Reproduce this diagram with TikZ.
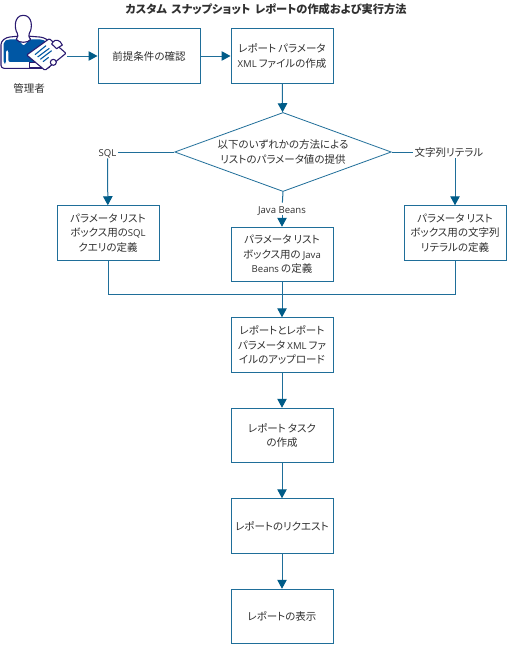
\documentclass[tikz,border=0pt]{standalone}
\usepackage{fontspec}
\setmainfont[RawFeature={+palt}]{Noto Sans CJK JP}
\newfontfamily\latf[Scale=0.91]{Open Sans}
\newcommand{\lt}[1]{{\latf #1}}
\newcommand{\gp}{\hspace{.2em}}
\newcommand{\tgp}{\hspace{.4em}}
\usetikzlibrary{arrows.meta,shapes.geometric}
\definecolor{flow}{HTML}{1F6E99}
\definecolor{head}{HTML}{005C88}
\definecolor{ink}{HTML}{303030}
\definecolor{iconline}{HTML}{2A1A70}
\definecolor{iconblue}{HTML}{0057A4}
\tikzset{
  every node/.style={text=ink,font=\fontsize{10.5}{14.6}\selectfont,inner sep=0pt},
  stepbox/.style={draw=flow,line width=1pt,fill=white,minimum width=102pt,minimum height=54.5pt,align=center,text width=100pt},
  choice/.style={draw=flow,line width=.8pt,fill=white,diamond,aspect=2.74,minimum width=212pt,minimum height=77pt,align=center,text width=150pt},
  lab/.style={fill=white,inner xsep=1.5pt,inner ysep=1.5pt,text height=9.5pt,text depth=0pt},
  link/.style={draw=flow,line width=1pt},
  arrow/.style={link,-{Triangle[length=9pt,width=9.5pt,color=head]}},
}
\begin{document}
\begin{tikzpicture}[x=1pt,y=-1pt]
\useasboundingbox (0,0) rectangle (508,645);
\fill[white] (0,0) rectangle (508,645);
% icon
\begin{scope}[x=.3333pt,y=-.3333pt,line join=round,iconline,line width=1.1pt]
\draw[fill=white,rounded corners=3pt] (3,205) -- (3,125) -- (20,112) -- (60,108) -- (80,108) -- (130,112) -- (150,125) -- (150,205) -- cycle;
\fill[iconblue,rounded corners=2pt] (11,190) -- (11,125) -- (25,118) -- (55,118) -- (70,138) -- (90,118) -- (125,118) -- (140,125) -- (140,190) -- (95,190) -- (95,186) -- (25,186) -- (25,150) -- (18,150) -- (18,190) -- cycle;
\draw[fill=white] (52,100) .. controls (42,85) and (42,46) .. (70,46) .. controls (98,46) and (98,85) .. (88,100) .. controls (86,105) and (85,110) .. (92,118) .. controls (85,130) and (55,130) .. (49,118) .. controls (55,110) and (54,105) .. (52,100) -- cycle;
\draw[fill=white] (88,188) rectangle (122,204);
\draw[fill=white,rounded corners=1pt] (80,165) -- (148,116) -- (198,160) -- (135,211) -- cycle;
\draw[fill=white] (160,125) .. controls (165,118) and (180,118) .. (187,135) -- (170,146) -- (155,132) -- cycle;
\draw[fill=white] (160,187) circle[radius=3pt];
\draw[iconblue,line width=1.1pt] (105,164) -- (138,137) (113,171) -- (148,145) (121,178) -- (155,152) (129,185) -- (146,172);
\end{scope}
% nodes
\node[font=\fontsize{11.2}{12}\selectfont\bfseries] (title) at (266,9) {カスタム\tgp スナップショット\tgp レポートの作成および実行方法};
\coordinate (actor) at (67,56);
\node (admin) at (29,88) {管理者};
\node[stepbox] (check) at (149,56) {前提条件の確認};
\node[stepbox] (xml) at (282,56) {レポート\gp パラメータ\\\lt{XML}\gp ファイルの作成};
\node[choice] (ch) at (283,152) {以下のいずれかの方法による\\リストのパラメータ値の提供};
\node[lab] (sql) at (107.5,152) {\lt{SQL}};
\node[lab] (lit) at (449,152) {文字列リテラル};
\node[lab] (jb) at (282,209) {\lt{Java Beans}};
\node[stepbox] (bsql) at (108,233) {パラメータ\gp リスト\\ボックス用の\lt{SQL}\\クエリの定義};
\node[stepbox] (bjb) at (282,254.5) {パラメータ\gp リスト\\ボックス用の\gp\lt{Java}\\\lt{Beans}\gp の定義};
\node[stepbox] (blit) at (455,233) {パラメータ\gp リスト\\ボックス用の文字列\\リテラルの定義};
\node[stepbox] (up) at (282,345) {レポートとレポート\\パラメータ\gp\lt{XML}\gp ファ\\イルのアップロード};
\node[stepbox] (task) at (282,435.5) {レポート\gp タスク\\の作成};
\node[stepbox] (req) at (282,526) {レポートのリクエスト};
\node[stepbox] (view) at (282,616.5) {レポートの表示};
\coordinate (join) at (282,294);
% connectors
\draw[arrow] (actor) -- (check);
\draw[arrow] (check) -- (xml);
\draw[arrow] (xml) -- (ch);
\draw[link] (ch.west) -- (sql);
\draw[arrow] (sql) -- (bsql);
\draw[link] (ch.east) -- (lit);
\draw[arrow] (blit.north |- lit.south) -- (blit.north);
\draw[link] (ch.south) -- (jb);
\draw[arrow] (jb) -- (bjb);
\draw[link] (bsql.south) |- (join);
\draw[link] (blit.south) |- (join);
\draw[link] (bjb.south) -- (join);
\draw[arrow] (join) -- (up);
\draw[arrow] (up) -- (task);
\draw[arrow] (task) -- (req);
\draw[arrow] (req) -- (view);
\end{tikzpicture}
\end{document}
